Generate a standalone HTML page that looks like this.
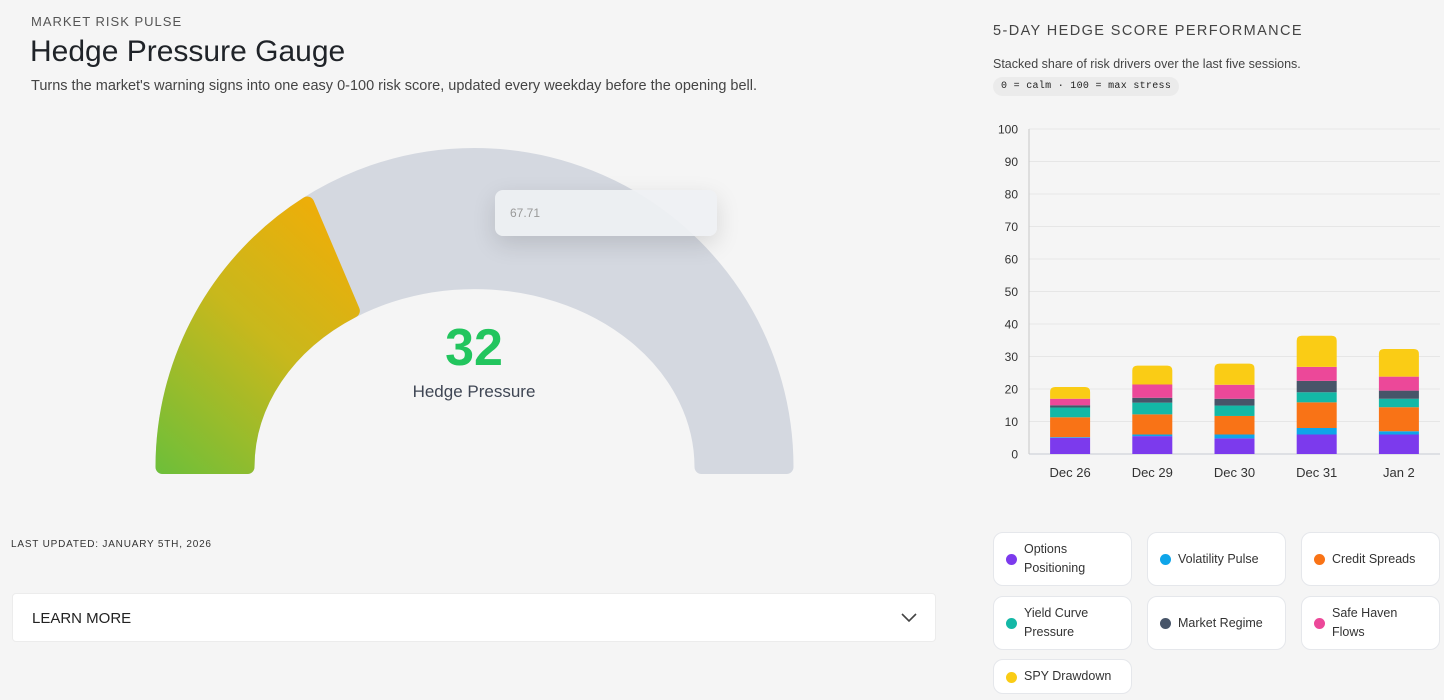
<!DOCTYPE html>
<html><head><meta charset="utf-8">
<style>
body{margin:0;width:1444px;height:700px;background:#f5f5f5;font-family:"Liberation Sans",sans-serif;position:relative;overflow:hidden;color:#222}
.abs{position:absolute}
.leg{position:absolute;background:#fff;border:1px solid #e5e7eb;border-radius:10px;width:139px;box-sizing:border-box;font-size:12.5px;color:#333;line-height:19px;display:flex;align-items:center;padding-left:30px}
.leg i{position:absolute;left:12px;top:50%;margin-top:-5px;width:11px;height:11px;border-radius:50%}
</style></head><body>
<div class="abs" style="left:31px;top:14px;font-size:13px;letter-spacing:1px;color:#555">MARKET RISK PULSE</div>
<div class="abs" style="left:30px;top:35px;font-size:30px;font-weight:500;color:#1f2328">Hedge Pressure Gauge</div>
<div class="abs" style="left:31px;top:78px;font-size:14.5px;color:#444">Turns the market's warning signs into one easy 0-100 risk score, updated every weekday before the opening bell.</div>

<svg class="abs" style="left:0;top:0" width="960" height="520">
<defs>
<linearGradient id="g" x1="150" y1="470" x2="360" y2="230" gradientUnits="userSpaceOnUse">
<stop offset="0" stop-color="#6cbf3a"/><stop offset="0.55" stop-color="#c8b81c"/><stop offset="1" stop-color="#f0ad08"/></linearGradient>
</defs>
<g id="gaugeg"></g>
</svg>
<div class="abs" style="left:374px;top:318px;width:200px;text-align:center;font-size:52px;font-weight:bold;color:#22c55e">32</div>
<div class="abs" style="left:374px;top:382px;width:200px;text-align:center;font-size:17px;color:#3f4654">Hedge Pressure</div>
<div class="abs" style="left:495px;top:190px;width:222px;height:46px;background:rgba(238,240,243,0.93);border-radius:8px;box-shadow:0 8px 24px rgba(0,0,0,0.13);font-size:12px;color:#999;line-height:46px;padding-left:15px;box-sizing:border-box">67.71</div>

<div class="abs" style="left:11px;top:539px;font-size:10px;letter-spacing:0.8px;color:#333">LAST UPDATED: JANUARY 5TH, 2026</div>
<div class="abs" style="left:12px;top:593px;width:924px;height:49px;background:#fff;border:1px solid #ececec;border-radius:4px;box-sizing:border-box">
<span style="position:absolute;left:19px;top:16px;font-size:15px;color:#222">LEARN MORE</span>
<svg style="position:absolute;right:18px;top:18px" width="16" height="12"><path d="M1 2 L8 9 L15 2" fill="none" stroke="#444" stroke-width="1.6"/></svg>
</div>

<div class="abs" style="left:993px;top:23px;font-size:14.5px;letter-spacing:1.4px;color:#444">5-DAY HEDGE SCORE PERFORMANCE</div>
<div class="abs" style="left:993px;top:57px;font-size:12.5px;color:#444">Stacked share of risk drivers over the last five sessions.</div>
<div class="abs" style="left:993px;top:77px;height:19px;padding:0 8px;background:#ebebeb;border-radius:10px;font-family:'Liberation Mono',monospace;font-size:10px;line-height:19px;color:#222;letter-spacing:0.3px">0 = calm · 100 = max stress</div>

<svg class="abs" style="left:980px;top:110px" width="464" height="380" id="chart"></svg>

<div class="leg" style="left:993px;top:532px;height:54px"><i style="background:#7c3aed"></i>Options<br>Positioning</div>
<div class="leg" style="left:1147px;top:532px;height:54px"><i style="background:#0ea5e9"></i>Volatility Pulse</div>
<div class="leg" style="left:1301px;top:532px;height:54px"><i style="background:#f97316"></i>Credit Spreads</div>
<div class="leg" style="left:993px;top:596px;height:54px"><i style="background:#14b8a6"></i>Yield Curve<br>Pressure</div>
<div class="leg" style="left:1147px;top:596px;height:54px"><i style="background:#475569"></i>Market Regime</div>
<div class="leg" style="left:1301px;top:596px;height:54px"><i style="background:#ec4899"></i>Safe Haven<br>Flows</div>
<div class="leg" style="left:993px;top:659px;height:35px"><i style="background:#facc15"></i>SPY Drawdown</div>

<script>
const gaugeValue = 32;
const categories = ["Dec 26","Dec 29","Dec 30","Dec 31","Jan 2"];
const options = [5.0, 5.5, 4.8, 6.0, 6.0];
const volatility = [0.2, 0.5, 1.2, 2.0, 1.0];
const credit = [6.1, 6.2, 5.7, 7.9, 7.4];
const yieldCurve = [3.0, 3.6, 3.2, 3.1, 2.6];
const regime = [0.7, 1.5, 2.1, 3.5, 2.5];
const safeHaven = [2.0, 4.1, 4.3, 4.3, 4.3];
const spy = [3.6, 5.8, 6.5, 9.6, 8.5];
const yTicks = [0,10,20,30,40,50,60,70,80,90,100];
const NS="http://www.w3.org/2000/svg";
function mk(p,t,a){const e=document.createElementNS(NS,t);for(const k in a)e.setAttribute(k,a[k]);p.appendChild(e);return e;}

// gauge
const gg=document.getElementById('gaugeg');
const cx=474.5,cy=467,Ro=312,Rix=227,Riy=185;
function arc(a0,a1){
  const p=(r1,r2,a)=>[cx-r1*Math.cos(a),cy-r2*Math.sin(a)];
  const o0=p(Ro,Ro,a0),o1=p(Ro,Ro,a1),i1=p(Rix,Riy,a1),i0=p(Rix,Riy,a0);
  return `M${o0} A${Ro},${Ro} 0 0 1 ${o1} L${i1} A${Rix},${Riy} 0 0 0 ${i0} Z`;
}
const track=mk(gg,'path',{d:arc(0,Math.PI),fill:'#d4d8e0',stroke:'#d4d8e0','stroke-width':14,'stroke-linejoin':'round'});


const va=gaugeValue/100*Math.PI;
const fillArc=mk(gg,'path',{d:arc(0,va),fill:'url(#g)',stroke:'url(#g)','stroke-width':14,'stroke-linejoin':'round'});



// chart
const svg=document.getElementById('chart');
const x0=49,x1=460,yb=344,yt=19;
const y=v=>yb-(v-0)/100*(yb-yt);
const band=(x1-x0)/categories.length;
const xc=i=>x0+band*(i+0.5);
yTicks.forEach(t=>{
  if(t>0){const l=mk(svg,'line',{x1:x0,x2:x1,y1:y(t),y2:y(t),stroke:'#e6e6e6'});
  
  }
  const tx=mk(svg,'text',{x:38,y:y(t)+4.5,'text-anchor':'end','font-size':12,fill:'#333','font-family':'Liberation Sans'});
  tx.textContent=t;
  
  
});
const ax=mk(svg,'line',{x1:x0,x2:x0,y1:yt,y2:yb,stroke:'#c8c8c8'});


const bx=mk(svg,'line',{x1:x0,x2:x1,y1:yb,y2:yb,stroke:'#c8ccd4'});


const series=[options,volatility,credit,yieldCurve,regime,safeHaven,spy];
const names=['options','volatility','credit','yield-curve','regime','safe-haven','spy'];
const colors=['#7c3aed','#0ea5e9','#f97316','#14b8a6','#475569','#ec4899','#facc15'];
const bw=40;
categories.forEach((c,i)=>{
  let acc=0;
  series.forEach((s,k)=>{
    const v=s[i];const top=acc+v;
    const last=k===series.length-1;
    const yT=y(top),yB=y(acc);
    let el;
    if(last){
      const r=5,xl=xc(i)-bw/2,xr=xc(i)+bw/2;
      el=mk(svg,'path',{d:`M${xl},${yB} L${xl},${yT+r} Q${xl},${yT} ${xl+r},${yT} L${xr-r},${yT} Q${xr},${yT} ${xr},${yT+r} L${xr},${yB} Z`,fill:colors[k]});
    } else {
      el=mk(svg,'rect',{x:xc(i)-bw/2,y:yT,width:bw,height:Math.max(0,yB-yT),fill:colors[k]});
    }
    
    
    acc=top;
  });
  const t=mk(svg,'text',{x:xc(i),y:yb+23,'text-anchor':'middle','font-size':13,fill:'#333','font-family':'Liberation Sans'});
  t.textContent=c;
  
  
});
</script>
</body></html>
